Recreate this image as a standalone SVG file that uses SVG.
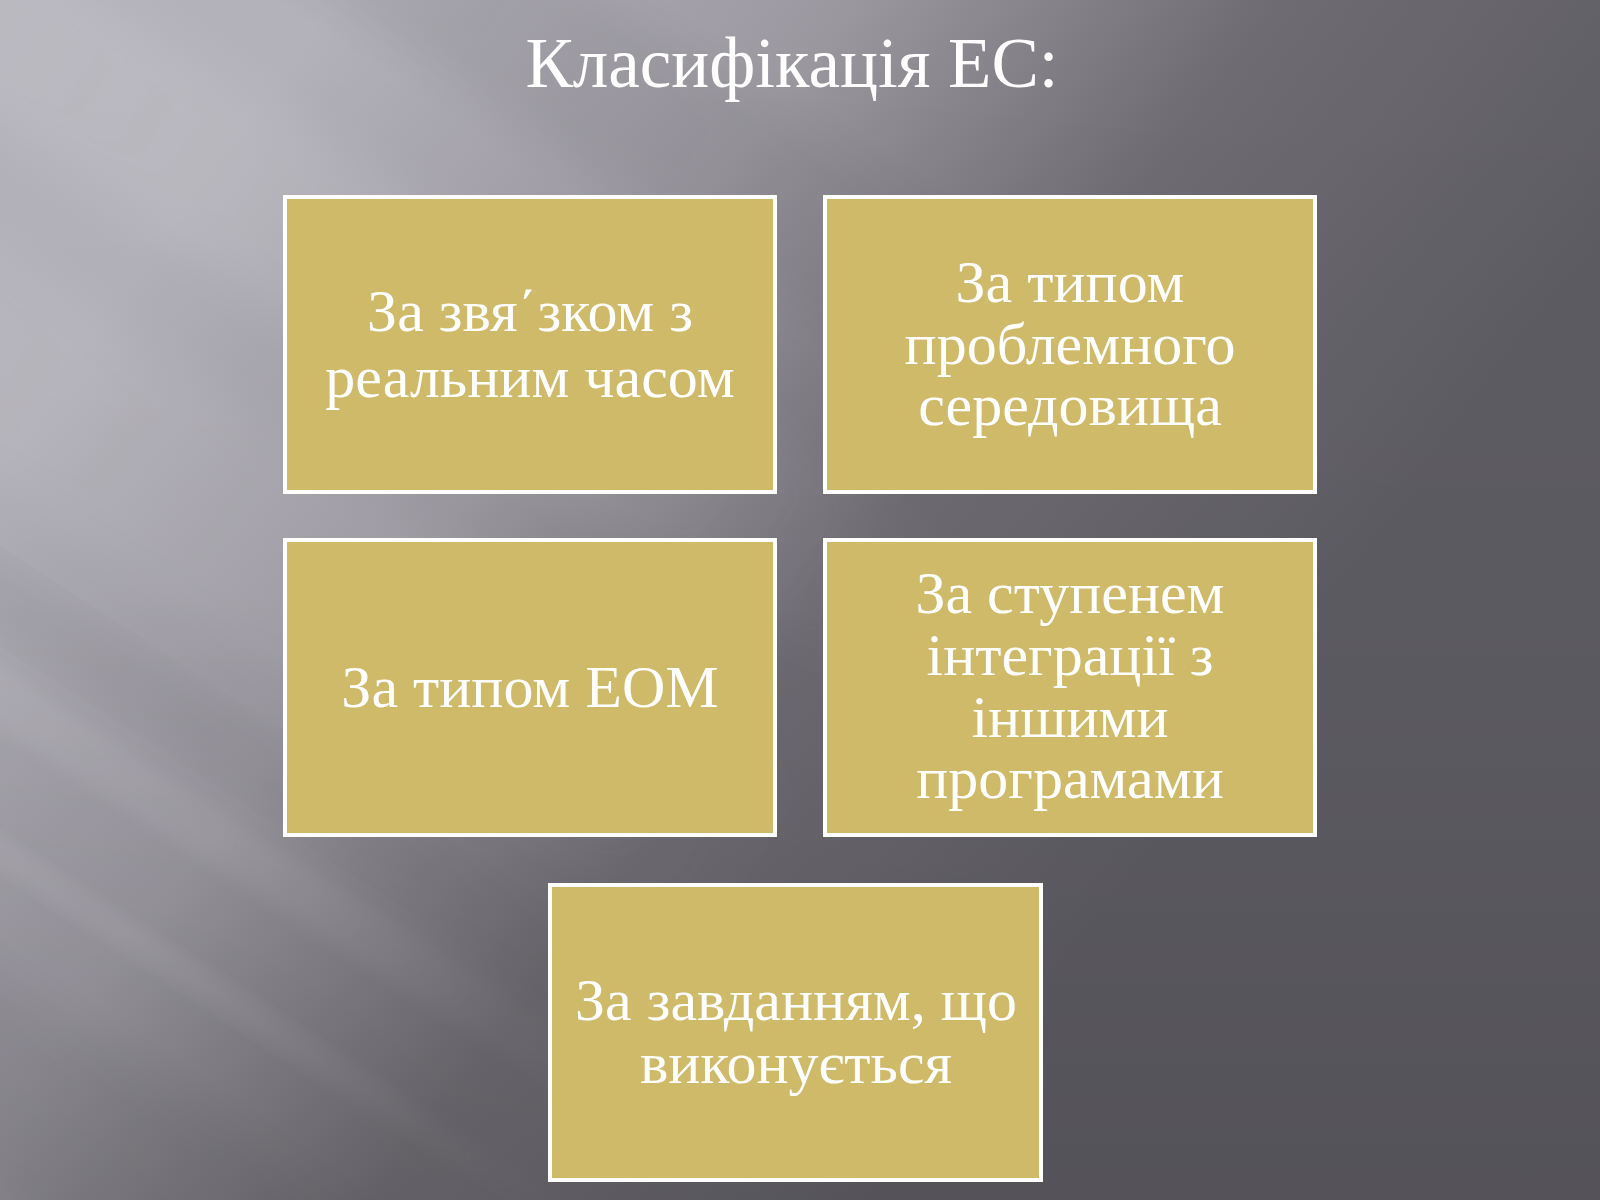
<svg xmlns="http://www.w3.org/2000/svg" width="1600" height="1200" viewBox="0 0 1600 1200">
  <defs>
    <linearGradient id="bg" gradientUnits="userSpaceOnUse" x1="220" y1="150" x2="1150" y2="850">
      <stop offset="0" stop-color="#b3b1b9"/>
      <stop offset="0.35" stop-color="#9b98a0"/>
      <stop offset="0.65" stop-color="#6e6b72"/>
      <stop offset="1" stop-color="#5e5c63"/>
    </linearGradient>
    <linearGradient id="shade" x1="0" y1="0" x2="0" y2="1">
      <stop offset="0" stop-color="#000" stop-opacity="0"/>
      <stop offset="0.5" stop-color="#000" stop-opacity="0.02"/>
      <stop offset="1" stop-color="#000" stop-opacity="0.1"/>
    </linearGradient>
    <linearGradient id="fadeW" gradientUnits="userSpaceOnUse" x1="-200" y1="0" x2="1150" y2="0">
      <stop offset="0" stop-color="#fff" stop-opacity="1"/>
      <stop offset="0.7" stop-color="#fff" stop-opacity="0.6"/>
      <stop offset="1" stop-color="#fff" stop-opacity="0"/>
    </linearGradient>
    <linearGradient id="fadeK" gradientUnits="userSpaceOnUse" x1="-200" y1="0" x2="1150" y2="0">
      <stop offset="0" stop-color="#000" stop-opacity="1"/>
      <stop offset="0.7" stop-color="#000" stop-opacity="0.6"/>
      <stop offset="1" stop-color="#000" stop-opacity="0"/>
    </linearGradient>
    <filter id="blur" x="-20%" y="-20%" width="140%" height="140%">
      <feGaussianBlur stdDeviation="22"/>
    </filter>
    <filter id="blurS" x="-20%" y="-20%" width="140%" height="140%">
      <feGaussianBlur stdDeviation="8"/>
    </filter>
  </defs>
  <style>
    .box rect { fill: #cfba69; stroke: #ffffff; stroke-width: 4; }
    .box text { font-family: "Liberation Serif", "Times New Roman", serif; font-size: 60px; fill: #ffffff; text-anchor: middle; }
    .title { font-family: "Liberation Serif", "Times New Roman", serif; font-size: 71px; fill: #ffffff; text-anchor: middle; }
  </style>

  <!-- background -->
  <rect x="0" y="0" width="1600" height="1200" fill="url(#bg)"/>
  <g transform="rotate(33)">
    <rect x="-400" y="-60" width="1700" height="170" fill="url(#fadeW)" opacity="0.11" filter="url(#blur)"/>
    <rect x="-400" y="-330" width="1700" height="150" fill="url(#fadeK)" opacity="0.07" filter="url(#blur)"/>
    <rect x="-400" y="210" width="1700" height="200" fill="url(#fadeW)" opacity="0.08" filter="url(#blur)"/>
    <rect x="-400" y="470" width="1700" height="60" fill="url(#fadeK)" opacity="0.06" filter="url(#blur)"/>
    <rect x="-400" y="560" width="1700" height="50" fill="url(#fadeW)" opacity="0.1" filter="url(#blurS)"/>
    <rect x="-400" y="700" width="1700" height="30" fill="url(#fadeW)" opacity="0.1" filter="url(#blurS)"/>
    <rect x="-400" y="820" width="1700" height="180" fill="url(#fadeK)" opacity="0.07" filter="url(#blur)"/>
  </g>
  <rect x="0" y="0" width="1600" height="1200" fill="url(#shade)"/>

  <text class="title" x="792" y="87">Класифікація ЕС:</text>

  <g id="connectors"></g>

  <g id="node-realtime" class="box">
    <rect x="285" y="197" width="490" height="295"/>
    <text x="530" y="331">За звя΄зком з</text>
    <text x="530" y="397">реальним часом</text>
  </g>
  <g id="node-problem" class="box">
    <rect x="825" y="197" width="490" height="295"/>
    <text x="1070" y="302">За типом</text>
    <text x="1070" y="364">проблемного</text>
    <text x="1070" y="425">середовища</text>
  </g>
  <g id="node-computer" class="box">
    <rect x="285" y="540" width="490" height="295"/>
    <text x="530" y="707">За типом ЕОМ</text>
  </g>
  <g id="node-integration" class="box">
    <rect x="825" y="540" width="490" height="295"/>
    <text x="1070" y="613">За ступенем</text>
    <text x="1070" y="675">інтеграції з</text>
    <text x="1070" y="737">іншими</text>
    <text x="1070" y="798">програмами</text>
  </g>
  <g id="node-task" class="box">
    <rect x="550" y="885" width="491" height="295"/>
    <text x="796" y="1020">За завданням, що</text>
    <text x="796" y="1083">виконується</text>
  </g>
</svg>
